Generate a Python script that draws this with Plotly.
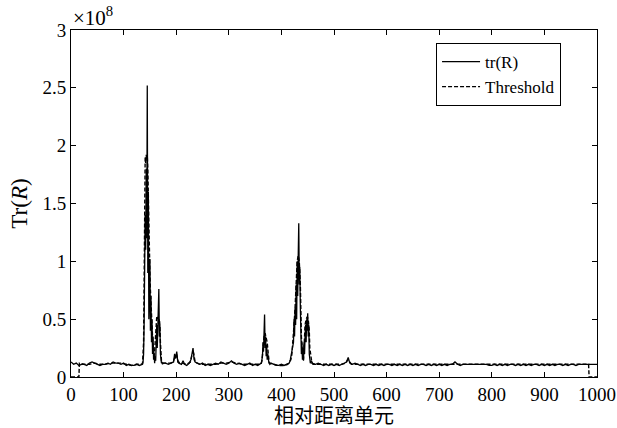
import plotly.graph_objects as go

# values in units of 1e8
tr_x = [0, 5, 10, 15, 20, 25, 30, 35, 40, 45, 50, 55, 60, 65, 70, 75, 80, 85, 90, 95, 100, 105, 110, 115, 120, 125, 130, 135,
        136, 137, 138, 139, 140, 141, 142, 143, 144, 145, 146, 147, 148, 149, 150, 151, 152, 153, 154, 155, 156, 157, 158, 159,
        160, 161, 162, 163, 164, 165, 166, 167, 168, 169, 170, 171, 172, 173, 174, 175,
        180, 185, 190, 195, 197, 199, 201, 203, 205, 210, 213, 216, 220, 225, 228, 230, 232, 234, 236, 240, 245, 250, 255, 260,
        265, 270, 275, 280, 285, 290, 295, 300, 305, 310, 315, 320, 325, 330, 335, 340, 345, 350, 355, 360,
        362, 364, 365, 366, 367, 368, 369, 370, 371, 372, 373, 374, 376, 378, 380,
        385, 390, 395, 400, 405, 410, 413,
        415, 417, 419, 421, 423, 424, 425, 426, 427, 428, 429, 430, 431, 432, 433, 434, 435, 436, 437, 438, 439, 440, 441, 442,
        443, 444, 445, 446, 447, 448, 449, 450, 451, 452, 453, 454, 455, 457, 460,
        465, 470, 475, 480, 485, 490, 495, 500, 505, 510, 515, 520, 524, 527, 530, 535, 540, 545, 550, 555, 560, 565, 570, 575,
        580, 585, 590, 595, 600, 605, 610, 615, 620, 625, 630, 635, 640, 645, 650, 655, 660, 665, 670, 675, 680, 685, 690, 695,
        700, 705, 710, 715, 720, 725, 730, 735, 740, 745, 750, 755, 760, 765, 770, 775, 780, 785, 790, 795, 800, 805, 810, 815,
        820, 825, 830, 835, 840, 845, 850, 855, 860, 865, 870, 875, 880, 885, 890, 895, 900, 905, 910, 915, 920, 925, 930, 935,
        940, 945, 950, 955, 960, 965, 970, 975, 980, 985, 990, 995, 1000]
tr_y = [0.13, 0.11, 0.12, 0.10, 0.11, 0.11, 0.10, 0.12, 0.13, 0.12, 0.11, 0.10, 0.11, 0.11, 0.12, 0.11, 0.13, 0.12, 0.12, 0.11,
        0.12, 0.10, 0.11, 0.10, 0.10, 0.11, 0.10, 0.11,
        0.11, 0.13, 0.20, 0.45, 0.90, 1.40, 1.10, 1.80, 1.20, 2.52, 0.90, 1.60, 0.50, 0.80, 1.02, 0.40, 0.70, 0.30, 0.50, 0.20,
        0.35, 0.15, 0.20, 0.12, 0.18, 0.14, 0.30, 0.45, 0.25, 0.50, 0.40, 0.76, 0.35, 0.45, 0.20, 0.15, 0.12, 0.13, 0.11, 0.12,
        0.12, 0.11, 0.12, 0.13, 0.20, 0.16, 0.22, 0.13, 0.12, 0.11, 0.14, 0.11, 0.10, 0.12, 0.15, 0.20, 0.25, 0.15, 0.13, 0.12,
        0.11, 0.12, 0.10, 0.11, 0.10, 0.11, 0.12, 0.11, 0.13, 0.12, 0.11, 0.12, 0.14, 0.12, 0.11, 0.12, 0.11, 0.10, 0.11, 0.12,
        0.10, 0.11, 0.10, 0.11,
        0.12, 0.18, 0.30, 0.22, 0.40, 0.54, 0.25, 0.35, 0.18, 0.28, 0.15, 0.20, 0.13, 0.11, 0.12,
        0.11, 0.10, 0.10, 0.11, 0.10, 0.11, 0.12,
        0.12, 0.15, 0.20, 0.25, 0.30, 0.50, 0.35, 0.60, 0.45, 0.80, 0.50, 1.00, 0.70, 1.05, 1.33, 0.80, 0.95, 0.60, 0.40, 0.20,
        0.30, 0.15, 0.25, 0.14, 0.30, 0.20, 0.35, 0.45, 0.30, 0.50, 0.40, 0.55, 0.35, 0.45, 0.20, 0.15, 0.12, 0.14, 0.11,
        0.11, 0.12, 0.11, 0.10, 0.11, 0.10, 0.11, 0.10, 0.11, 0.10, 0.11, 0.12, 0.13, 0.17, 0.12, 0.11, 0.12, 0.11, 0.10, 0.11,
        0.10, 0.11, 0.11, 0.10, 0.11, 0.10, 0.11, 0.10, 0.11, 0.11, 0.10, 0.11, 0.10, 0.11, 0.10, 0.11, 0.10, 0.11, 0.10, 0.11,
        0.10, 0.11, 0.11, 0.10, 0.11, 0.10, 0.11, 0.10, 0.11, 0.10, 0.11, 0.10, 0.11, 0.11, 0.13, 0.11, 0.10, 0.11, 0.11, 0.11,
        0.11, 0.11, 0.11, 0.11, 0.11, 0.11, 0.11, 0.10, 0.10, 0.11, 0.10, 0.11, 0.10, 0.11, 0.10, 0.11, 0.11, 0.10, 0.11, 0.10,
        0.11, 0.10, 0.11, 0.10, 0.11, 0.11, 0.10, 0.11, 0.10, 0.11, 0.10, 0.11, 0.10, 0.11, 0.11, 0.10, 0.11, 0.10, 0.11, 0.11,
        0.10, 0.11, 0.11, 0.11, 0.11, 0.11, 0.11, 0.11, 0.11]

thr_x = [0, 15, 16, 25, 35, 45, 55, 65, 75, 85, 95, 105, 115, 125, 134,
         136, 138, 139, 140, 141, 142, 143, 144, 145, 146, 147, 148, 149, 150, 151, 152, 153, 154, 155, 156, 157, 158, 159,
         160, 161, 162, 163, 164, 165, 166, 167, 168, 169, 170, 171, 172, 174,
         180, 190, 195, 198, 201, 204, 210, 220, 227, 230, 233, 236, 245, 255, 265, 275, 285, 295, 305, 315, 325, 335, 345,
         355, 361,
         363, 365, 367, 369, 371, 373, 375, 377, 385, 395, 405, 412,
         414, 418, 420, 422, 424, 426, 428, 430, 432, 434, 436, 437, 438, 440, 442, 443, 445, 447, 449, 451, 453, 454, 456, 458,
         465, 475, 485, 495, 505, 515, 522, 526, 529, 533, 545, 560, 580, 600, 620, 640, 660, 680, 700, 720, 740, 760, 780,
         800, 820, 840, 860, 880, 900, 920, 940, 960, 984, 985, 1000]
thr_y = [0.0, 0.0, 0.12, 0.11, 0.11, 0.12, 0.11, 0.11, 0.12, 0.12, 0.12, 0.11, 0.10, 0.11, 0.11,
         0.12, 0.30, 0.80, 1.50, 1.90, 1.85, 1.92, 1.88, 1.92, 1.80, 1.50, 1.20, 1.00, 0.90, 0.75, 0.60, 0.50, 0.40, 0.35,
         0.28, 0.20, 0.18, 0.22, 0.30, 0.40, 0.48, 0.52, 0.50, 0.52, 0.50, 0.48, 0.50, 0.45, 0.30, 0.20, 0.14, 0.12,
         0.12, 0.12, 0.14, 0.18, 0.19, 0.13, 0.12, 0.11, 0.13, 0.19, 0.21, 0.13, 0.11, 0.11, 0.11, 0.11, 0.12, 0.12, 0.13,
         0.12, 0.11, 0.11, 0.11, 0.11, 0.11,
         0.14, 0.28, 0.35, 0.38, 0.35, 0.30, 0.20, 0.12, 0.11, 0.10, 0.10, 0.11,
         0.12, 0.15, 0.20, 0.30, 0.45, 0.60, 0.85, 1.00, 1.05, 1.00, 0.80, 0.55, 0.35, 0.20, 0.15, 0.25, 0.45, 0.50, 0.52,
         0.50, 0.40, 0.25, 0.15, 0.12,
         0.11, 0.11, 0.11, 0.11, 0.11, 0.11, 0.12, 0.15, 0.14, 0.11, 0.11, 0.11, 0.11, 0.11, 0.11, 0.11, 0.11, 0.11, 0.11,
         0.11, 0.11, 0.11, 0.11, 0.11, 0.11, 0.11, 0.11, 0.11, 0.11, 0.11, 0.11, 0.11, 0.11, 0.0, 0.0]

x_ticks = [0, 100, 200, 300, 400, 500, 600, 700, 800, 900, 1000]
y_ticks = [0, 0.5, 1, 1.5, 2, 2.5, 3]
y_tick_text = ["0", "0.5", "1", "1.5", "2", "2.5", "3"]
x_title = "相对距离单元"

serif = "Liberation Serif, Times New Roman, serif"

fig = go.Figure()
fig.add_trace(go.Scatter(x=tr_x, y=tr_y, mode="lines", name="tr(R)",
                         line=dict(color="black", width=1.3)))
fig.add_trace(go.Scatter(x=thr_x, y=thr_y, mode="lines", name="Threshold",
                         line=dict(color="black", width=1.4, dash="4px,2px")))

axis_common = dict(showline=True, linecolor="black", linewidth=1, mirror="ticks",
                   ticks="inside", ticklen=5, tickcolor="black", showgrid=False, zeroline=False,
                   automargin=False,
                   tickfont=dict(family=serif, size=19, color="black"))

fig.update_layout(
    width=617, height=428,
    margin=dict(l=71, r=20, t=30, b=51),
    paper_bgcolor="white", plot_bgcolor="white",
    xaxis=dict(range=[0, 1000], tickvals=x_ticks, **axis_common),
    yaxis=dict(range=[0, 3], tickvals=y_ticks, ticktext=y_tick_text, **axis_common,
               title=dict(text="Tr(<i>R</i>)", standoff=8,
                          font=dict(family=serif, size=23, color="black"))),
    legend=dict(x=0.694, y=0.9625, xanchor="left", yanchor="top",
                bgcolor="white", bordercolor="black", borderwidth=1,
                font=dict(family=serif, size=17, color="black"),
                tracegroupgap=0, itemwidth=38),
    showlegend=True,
)
fig.add_annotation(x=0, y=1, xref="paper", yref="paper", xanchor="left", yanchor="bottom",
                   text="×10<sup>8</sup>", showarrow=False, yshift=-2,
                   font=dict(family=serif, size=21, color="black"))
fig.add_annotation(x=0.5, y=0, xref="paper", yref="paper", xanchor="center", yanchor="top",
                   text=x_title, showarrow=False, yshift=-22, borderpad=0,
                   font=dict(family="Noto Sans CJK SC", size=20, color="black"))

fig.write_html("out.html", config={"displayModeBar": False},
               post_script="document.body.style.margin='0';")
